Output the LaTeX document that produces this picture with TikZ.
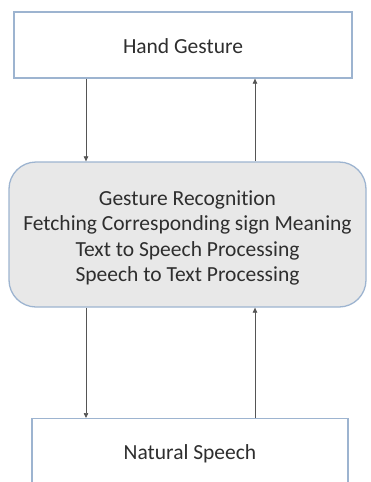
\documentclass[tikz,border=0pt]{standalone}
\usepackage{fontspec}
\setmainfont{Carlito}[Ligatures=NoCommon]
\usetikzlibrary{arrows.meta}
\definecolor{boxline}{HTML}{9DB4D0}
\definecolor{midfill}{HTML}{E8E8E8}
\definecolor{txt}{HTML}{2E2E2E}
\definecolor{arr}{HTML}{555555}
\tikzset{
  plainbox/.style={draw=boxline, line width=1.3pt, fill=white, inner sep=0pt},
  midbox/.style={draw=boxline, line width=1.3pt, fill=midfill, rounded corners=27pt, inner sep=0pt},
  lbl/.style={text=txt, font=\fontsize{21.5}{25.5}\selectfont},
  flow/.style={draw=arr, line width=0.7pt, -{Triangle[length=5pt,width=4.5pt]}}
}
\begin{document}
\begin{tikzpicture}[x=1pt,y=-1pt]
\useasboundingbox (0,0) rectangle (371,482);
\clip (0,0) rectangle (371,482);
\node[plainbox, minimum width=338pt, minimum height=66pt] (hand) at (183,45) {};
\node[lbl] (handlbl) at (183,46) {Hand Gesture};
\node[midbox, minimum width=357pt, minimum height=145pt] (mid) at (187.5,234.5) {};
\node[lbl, align=center] (midlbl) at (187.5,238) {Gesture Recognition\\Fetching Corresponding sign Meaning\\Text to Speech Processing\\Speech to Text Processing};
\node[plainbox, minimum width=316pt, minimum height=80pt, anchor=north] (nat) at (190,418) {};
\node[lbl] (natlbl) at (190,454) {Natural Speech};
\coordinate (a1) at (86,78);
\coordinate (a2) at (255,78);
\draw[flow] (hand.south -| a1) -- (mid.north -| a1);
\draw[flow] (mid.north -| a2) -- (hand.south -| a2);
\draw[flow] (mid.south -| a1) -- (nat.north -| a1);
\draw[flow] (nat.north -| a2) -- (mid.south -| a2);
\end{tikzpicture}
\end{document}
